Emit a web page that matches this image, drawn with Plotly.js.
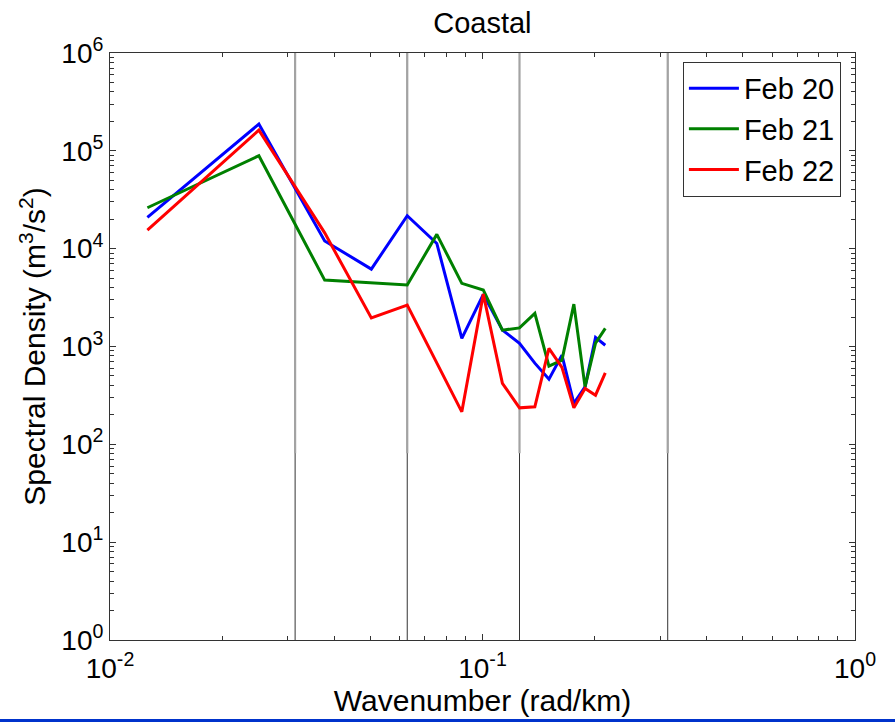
<!DOCTYPE html>
<html>
<head>
<meta charset="utf-8">
<script src="https://cdn.plot.ly/plotly-3.0.1.min.js"></script>
<style>
  html, body { margin: 0; padding: 0; background: #fff; }
  #chart { width: 895px; height: 722px; }
</style>
</head>
<body>
<div id="chart"></div>
<script>
// Wavenumber (rad/km)
var wavenumber = [0.0126, 0.0251, 0.0377, 0.0503, 0.0628, 0.0754, 0.0880, 0.1005, 0.1131,
                  0.1257, 0.1382, 0.1508, 0.1634, 0.1759, 0.1885, 0.2011, 0.2136];
// Spectral density (m^3/s^2)
var feb20 = [2.09e4, 1.88e5, 1.20e4, 6.18e3, 2.17e4, 1.13e4, 1.21e3, 3.41e3, 1.47e3,
             1.08e3, 676, 464, 817, 262, 387, 1240, 1030];
var feb21 = [2.62e4, 8.91e4, 4.77e3, 4.48e3, 4.25e3, 1.40e4, 4.42e3, 3.77e3, 1.47e3,
             1.55e3, 2.18e3, 631, 726, 2.71e3, 387, 1080, 1530];
var feb22 = [1.55e4, 1.63e5, 1.45e4, 1.96e3, 2.65e3, 680, 215, 3.43e3, 420,
             236, 242, 957, 611, 236, 373, 318, 538];
var seriesNames = ['Feb 20', 'Feb 21', 'Feb 22'];
// reference wavelengths 200, 100, 50, 20 km -> wavenumbers
var refWavenumbers = [0.0314, 0.0628, 0.1257, 0.3142];
var yTickVals = [1, 10, 100, 1000, 10000, 100000, 1000000];
var yTickText = ['10<sup>0</sup>', '10<sup>1</sup>', '10<sup>2</sup>', '10<sup>3</sup>',
                 '10<sup>4</sup>', '10<sup>5</sup>', '10<sup>6</sup>'];
var xTickVals = [0.01, 0.1, 1];
var xTickText = ['10<sup>-2</sup>', '10<sup>-1</sup>', '10<sup>0</sup>'];

function minorVals(lo, hi) {
  var v = [];
  for (var e = lo; e < hi; e++) {
    for (var m = 2; m <= 9; m++) v.push(m * Math.pow(10, e));
  }
  return v;
}

var FONT = 'Liberation Sans, Arial, sans-serif';
var traces = [];
refWavenumbers.forEach(function (k) {
  traces.push({x: [k, k], y: [1, 1e6], mode: 'lines', showlegend: false, hoverinfo: 'skip',
               line: {color: '#333333', width: 1}});
  traces.push({x: [k, k], y: [81, 1e6], mode: 'lines', showlegend: false, hoverinfo: 'skip',
               line: {color: '#a3a3a3', width: 2.2}});
});
var data = [feb20, feb21, feb22];
var colors = ['#0000ff', '#008000', '#ff0000'];
data.forEach(function (s, i) {
  traces.push({x: wavenumber, y: s, mode: 'lines', name: seriesNames[i],
               line: {color: colors[i], width: 3}});
});

var axisCommon = {
  type: 'log', showgrid: false, zeroline: false,
  showline: true, linecolor: '#333333', linewidth: 1, mirror: 'ticks',
  ticks: 'inside', ticklen: 6, tickcolor: '#333333', tickwidth: 1,
  tickmode: 'array',
  tickfont: {family: FONT, size: 28, color: '#000'}
};

var layout = {
  width: 895, height: 722,
  margin: {l: 110, r: 40, t: 53, b: 82},
  paper_bgcolor: '#fff', plot_bgcolor: '#fff',
  font: {family: FONT, color: '#000'},
  title: {text: 'Coastal', font: {family: FONT, size: 29, color: '#000'},
          x: 0.539, xref: 'container', xanchor: 'center', y: 0.969, yref: 'container', yanchor: 'middle'},
  xaxis: Object.assign({}, axisCommon, {
    range: [-2, 0], tickvals: xTickVals, ticktext: xTickText, ticklabelstandoff: 3,
    minor: {ticks: 'inside', ticklen: 4, tickcolor: '#333333', tickmode: 'array', tickvals: minorVals(-2, 0)},
    title: {text: 'Wavenumber (rad/km)', font: {family: FONT, size: 30, color: '#000'}, standoff: 4}
  }),
  yaxis: Object.assign({}, axisCommon, {
    range: [0, 6], tickvals: yTickVals, ticktext: yTickText,
    minor: {ticks: 'inside', ticklen: 4, tickcolor: '#333333', tickmode: 'array', tickvals: minorVals(0, 6)},
    title: {text: 'Spectral Density (m<sup>3</sup>/s<sup>2</sup>)', font: {family: FONT, size: 30, color: '#000'}, standoff: 6}
  }),
  showlegend: true,
  legend: {
    x: 0.769, y: 0.985, xanchor: 'left', yanchor: 'top',
    bgcolor: '#fff', bordercolor: '#333333', borderwidth: 1,
    font: {family: FONT, size: 29, color: '#000'},
    itemwidth: 50, tracegroupgap: 0
  },
  shapes: [{
    type: 'rect', xref: 'paper', yref: 'paper',
    x0: -110 / 745, x1: 785 / 745, y0: (640 - 723) / 587, y1: (640 - 719) / 587,
    fillcolor: '#0033cc', line: {width: 0}
  }]
};

Plotly.newPlot('chart', traces, layout, {displayModeBar: false, staticPlot: true});
</script>
</body>
</html>
